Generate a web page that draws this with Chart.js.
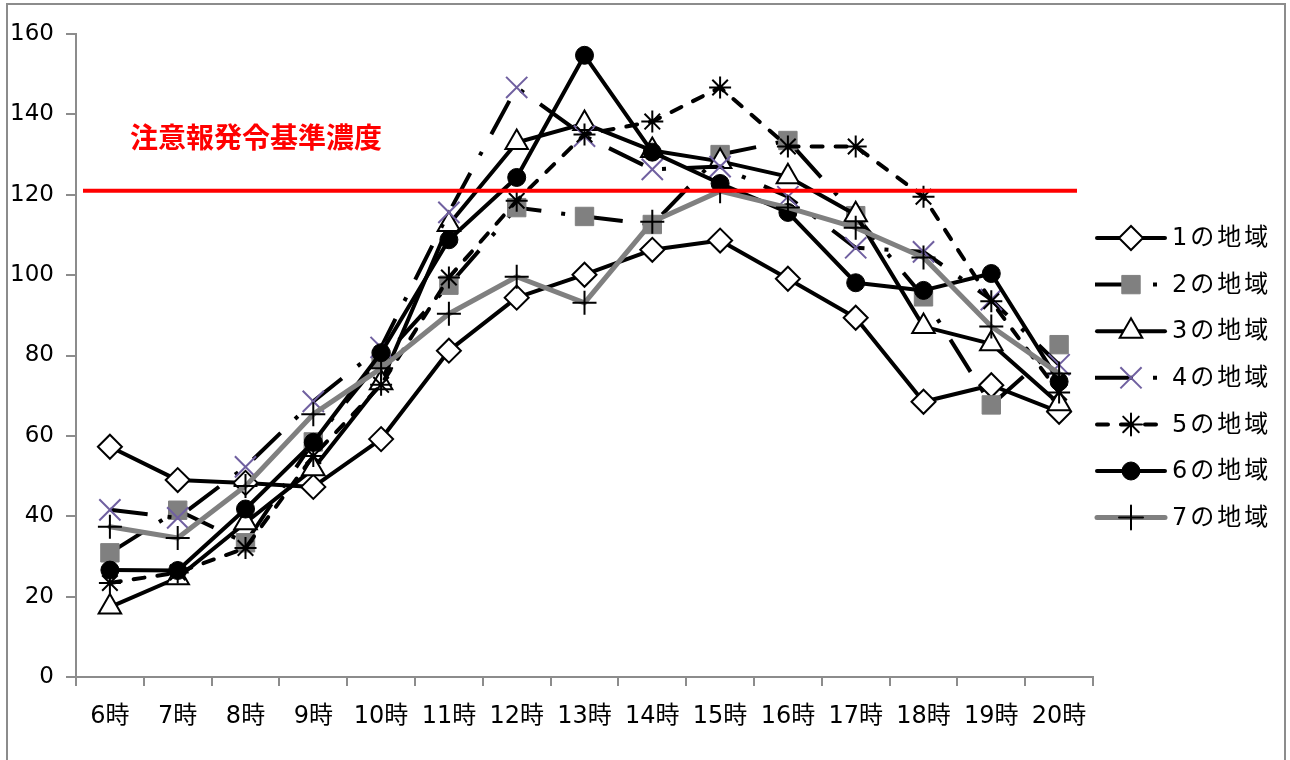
<!DOCTYPE html>
<html lang="ja">
<head>
<meta charset="utf-8">
<title>光化学オキシダント濃度の時刻変化</title>
<script src="https://cdn.jsdelivr.net/npm/chart.js"></script>
<style>
  html, body { margin: 0; padding: 0; background: #ffffff; }
  #wrap { width: 1290px; height: 760px; position: relative; }
</style>
</head>
<body>
<div id="wrap"><canvas id="c" width="1290" height="760"></canvas></div>
<script>
// 時刻（横軸カテゴリ）
const hours = ['6時', '7時', '8時', '9時', '10時', '11時', '12時', '13時', '14時', '15時', '16時', '17時', '18時', '19時', '20時'];

// 地域名
const regionNames = ['1の地域', '2の地域', '3の地域', '4の地域', '5の地域', '6の地域', '7の地域'];

// 各地域の濃度
const region1 = [57.3, 49, 48.3, 47.3, 59.2, 81.2, 94.4, 100.1, 106.3, 108.6, 99.1, 89.4, 68.5, 72.6, 66];
const region2 = [30.9, 41.5, 33.4, 58.5, 79, 97.5, 116.8, 114.6, 112.6, 130, 133.5, 114.8, 94.6, 67.7, 82.7];
const region3 = [17.4, 24.7, 38.4, 51.8, 73.2, 112.6, 133, 137.7, 131, 128.3, 124.5, 115, 87.2, 82.9, 68];
const region4 = [41.6, 39.6, 52.3, 68.6, 82, 115.6, 146.7, 134.6, 126.3, 127, 119.5, 106.8, 105.8, 93.9, 77.7];
const region5 = [23.4, 26, 32.1, 55, 72.7, 99.4, 118.5, 135, 138.2, 146.7, 132, 132, 119.5, 93.5, 70.8];
const region6 = [26.6, 26.5, 41.8, 58.4, 80.7, 108.8, 124.3, 154.7, 130.6, 122.8, 115.6, 98.1, 96.2, 100.4, 73.5];
const region7 = [37.4, 34.6, 47.5, 65.4, 76.8, 90.4, 99.6, 93.1, 113.3, 120.9, 116.8, 111.8, 104.4, 87.2, 75.5];

// 縦軸目盛
const yTicks = [0, 20, 40, 60, 80, 100, 120, 140, 160];

// 注意報発令基準濃度
const thresholdLabel = '注意報発令基準濃度';
const thresholdValue = 121;

const seriesValues = [region1, region2, region3, region4, region5, region6, region7];

const labelFont = '"DejaVu Sans", "Noto Sans CJK JP", sans-serif';

// 系列ごとの線と記号のスタイル
const seriesStyles = [
  { color: '#000000', width: 4, dash: [], cap: 'round', point: 'rectRot', radius: 12, fill: '#ffffff', stroke: '#000000', pw: 2 },
  { color: '#000000', width: 4, dash: [38, 20, 4, 20], cap: 'butt', point: 'rect', radius: 13, fill: '#808080', stroke: '#808080', pw: 1 },
  { color: '#000000', width: 4, dash: [], cap: 'round', point: 'triangle', radius: 13, fill: '#ffffff', stroke: '#000000', pw: 2 },
  { color: '#000000', width: 4, dash: [38, 20, 4, 20], cap: 'butt', point: 'crossRot', radius: 15, fill: '#7060a0', stroke: '#7060a0', pw: 2 },
  { color: '#000000', width: 4, dash: [11, 13], cap: 'round', point: 'star', radius: 11, fill: '#000000', stroke: '#000000', pw: 2 },
  { color: '#000000', width: 4, dash: [], cap: 'round', point: 'circle', radius: 9, fill: '#000000', stroke: '#000000', pw: 1 },
  { color: '#808080', width: 5, dash: [], cap: 'round', point: 'cross', radius: 12, fill: '#000000', stroke: '#000000', pw: 2 }
];

const datasets = seriesValues.map((vals, i) => {
  const s = seriesStyles[i];
  return {
    label: regionNames[i],
    data: vals,
    order: seriesValues.length - i,
    borderColor: s.color,
    borderWidth: s.width,
    borderDash: s.dash,
    borderCapStyle: s.cap,
    borderJoinStyle: 'round',
    tension: 0,
    fill: false,
    pointStyle: s.point,
    pointRadius: s.radius,
    pointBackgroundColor: s.fill,
    pointBorderColor: s.stroke,
    pointBorderWidth: s.pw,
    pointHoverRadius: s.radius
  };
});

// 外枠
const framePlugin = {
  id: 'frame',
  beforeDraw(chart) {
    const ctx = chart.ctx;
    ctx.save();
    ctx.fillStyle = '#ffffff';
    ctx.fillRect(0, 0, chart.width, chart.height);
    ctx.strokeStyle = '#8c8c8c';
    ctx.lineWidth = 2;
    ctx.strokeRect(7, 4, 1278, 790);
    ctx.restore();
  }
};

// 基準濃度の線と見出し
const thresholdPlugin = {
  id: 'threshold',
  afterDatasetsDraw(chart) {
    const ctx = chart.ctx;
    const y = chart.scales.y.getPixelForValue(thresholdValue);
    const a = chart.chartArea;
    ctx.save();
    ctx.strokeStyle = '#ff0000';
    ctx.lineWidth = 4;
    ctx.beginPath();
    ctx.moveTo(a.left + 7, y);
    ctx.lineTo(a.right - 16, y);
    ctx.stroke();
    ctx.fillStyle = '#ff0000';
    ctx.font = 'bold 28px "Noto Sans CJK JP"';
    ctx.textAlign = 'center';
    ctx.textBaseline = 'middle';
    ctx.fillText(thresholdLabel, 256, 137);
    ctx.restore();
  }
};

// 凡例（線見本と記号付き）
const legendPlugin = {
  id: 'sampleLegend',
  afterDraw(chart) {
    const ctx = chart.ctx;
    const x0 = 1095, x1 = 1167, xm = 1131, tx = 1172;
    const y0 = 238, dy = 46.6;
    ctx.save();
    chart.data.datasets.forEach((ds, i) => {
      const s = seriesStyles[i];
      const y = y0 + i * dy;
      ctx.strokeStyle = s.color;
      ctx.lineWidth = s.width;
      ctx.lineCap = s.cap;
      ctx.setLineDash(s.dash);
      ctx.beginPath();
      ctx.moveTo(x0 + (s.cap === 'round' ? 2 : 0), y);
      ctx.lineTo(x1 - (s.cap === 'round' ? 2 : 0), y);
      ctx.stroke();
      ctx.setLineDash([]);
      ctx.fillStyle = s.fill;
      ctx.strokeStyle = s.stroke;
      ctx.lineWidth = s.pw;
      Chart.helpers.drawPoint(ctx, { pointStyle: s.point, radius: s.radius, rotation: 0, borderWidth: s.pw }, xm, y);
      ctx.fillStyle = '#000000';
      ctx.font = '24px ' + labelFont;
      ctx.letterSpacing = '3px';
      ctx.textAlign = 'left';
      ctx.textBaseline = 'middle';
      ctx.fillText(ds.label, tx, y + 1);
      ctx.letterSpacing = '0px';
    });
    ctx.restore();
  }
};

new Chart(document.getElementById('c'), {
  type: 'line',
  data: { labels: hours, datasets },
  plugins: [framePlugin, thresholdPlugin, legendPlugin],
  options: {
    responsive: false,
    devicePixelRatio: 1,
    animation: false,
    layout: { padding: { left: 0, top: 34, right: 197, bottom: 0 } },
    plugins: {
      legend: { display: false },
      tooltip: { enabled: false },
      title: { display: false }
    },
    scales: {
      x: {
        type: 'category',
        offset: true,
        grid: { offset: true, drawOnChartArea: false, drawTicks: true, tickLength: 9, color: '#8c8c8c', lineWidth: 2 },
        border: { color: '#8c8c8c', width: 2 },
        ticks: {
          color: '#000000',
          font: { family: labelFont, size: 24 },
          padding: 16,
          maxRotation: 0,
          autoSkip: false
        },
        afterFit(scale) { scale.height = 83; }
      },
      y: {
        min: yTicks[0],
        max: yTicks[yTicks.length - 1],
        afterBuildTicks(scale) { scale.ticks = yTicks.map(v => ({ value: v })); },
        grid: { drawOnChartArea: false, drawTicks: true, tickLength: 10, color: '#8c8c8c', lineWidth: 2 },
        border: { color: '#8c8c8c', width: 2 },
        ticks: {
          color: '#000000',
          font: { family: '"DejaVu Sans"', size: 23 },
          padding: 12
        },
        afterFit(scale) { scale.width = 76; }
      }
    }
  }
});
</script>
</body>
</html>
